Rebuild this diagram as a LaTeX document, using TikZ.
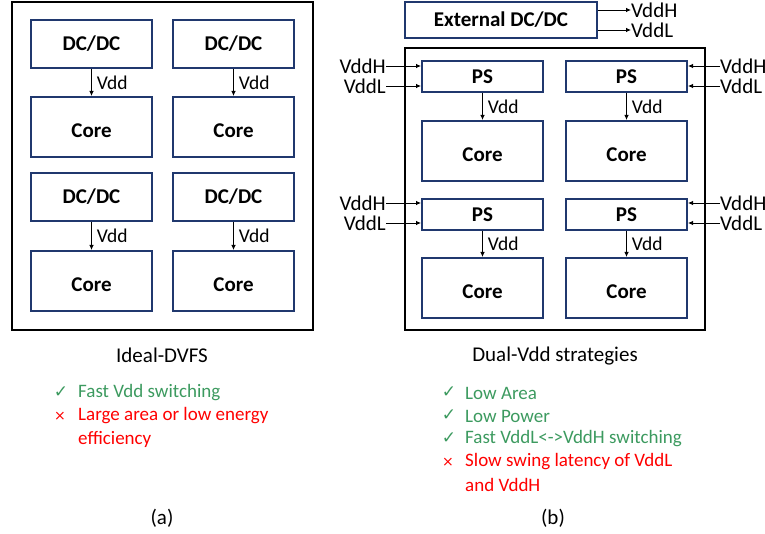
\documentclass[tikz,border=0pt]{standalone}
\usepackage{fontspec}
\setmainfont{Carlito}
\newfontfamily\symfont{DejaVu Sans}
\usetikzlibrary{positioning,arrows.meta}

\definecolor{boxblue}{RGB}{32,56,110}
\definecolor{okgreen}{RGB}{60,154,95}
\definecolor{badred}{RGB}{255,0,0}

\newcommand{\okmark}{{\symfont\fontsize{17}{17}\selectfont\color{okgreen}✓}}
\newcommand{\badmark}{{\symfont\fontsize{14}{14}\selectfont\color{badred}×}}
\newcommand{\coretext}{\raisebox{-3.5pt}[\height][\depth]{Core}}

\begin{document}
\begin{tikzpicture}[
      x=1pt, y=-1pt,
      blk/.style={
        draw=boxblue, line width=2pt, fill=white,
        font=\fontsize{21}{24}\selectfont\bfseries,
        minimum width=121pt, inner sep=0pt
      },
      conv/.style={blk, minimum height=48pt},
      core/.style={blk, minimum height=60pt},
      ps/.style={blk, minimum height=31pt},
      frame/.style={draw=black, line width=2pt},
      lbl/.style={font=\fontsize{19.5}{22}\selectfont, inner sep=0pt},
      sup/.style={font=\fontsize{21}{24}\selectfont, inner sep=0pt},
      item/.style={font=\fontsize{19}{23}\selectfont, inner sep=0pt, anchor=west},
      title/.style={font=\fontsize{21}{24}\selectfont, inner sep=0pt},
      wire/.style={line width=0.8pt, -{Latex[length=5pt,width=4.5pt]}},
      >=Latex
      ]
      \useasboundingbox (0,0) rectangle (765,534);

      % (a) ideal DVFS
      \draw[frame] (12,2) rectangle (313,330);
      \node[conv] (dc1) at (91.5,44) {DC/DC};
      \node[conv] (dc2) at (233.5,44) {DC/DC};
      \node[conv] (dc3) at (91.5,197) {DC/DC};
      \node[conv] (dc4) at (233.5,197) {DC/DC};
      \node[core, below=27pt of dc1] (ca1) {\coretext};
      \node[core, below=27pt of dc2] (ca2) {\coretext};
      \node[core, below=28pt of dc3] (ca3) {\coretext};
      \node[core, below=28pt of dc4] (ca4) {\coretext};

      \draw[wire] (dc1) -- node[lbl, right=5pt] {Vdd} (ca1);
      \draw[wire] (dc2) -- node[lbl, right=5pt] {Vdd} (ca2);
      \draw[wire] (dc3) -- node[lbl, right=5pt] {Vdd} (ca3);
      \draw[wire] (dc4) -- node[lbl, right=5pt] {Vdd} (ca4);

      \node[title] (ta) at (162,355) {Ideal-DVFS};
      \node[item] (a1) at (78,393) {\color{okgreen}Fast Vdd switching};
      \node[item] (a2) at (78,416) {\color{badred}Large area or low energy};
      \node[item] (a3) at (78,439) {\color{badred}efficiency};
      \node[inner sep=0pt] at (61,392) {\okmark};
      \node[inner sep=0pt] at (60,416) {\badmark};
      \node[title] (capa) at (162,518) {(a)};

      % (b) dual-Vdd
      \node[blk, minimum width=192pt, minimum height=36pt] (ext) at (501,20) {External DC/DC};
      \node[sup, anchor=west] (eh) at (631,10) {VddH};
      \node[sup, anchor=west] (el) at (631,30) {VddL};
      \draw[wire] (ext.east |- eh) -- (eh.west);
      \draw[wire] (ext.east |- el) -- (el.west);

      \draw[frame] (405,48) rectangle (705,330);
      \node[ps] (ps1) at (482.5,76.5) {PS};
      \node[ps] (ps2) at (626.5,76.5) {PS};
      \node[ps] (ps3) at (482.5,214.5) {PS};
      \node[ps] (ps4) at (626.5,214.5) {PS};
      \node[core, below=27pt of ps1] (cb1) {\coretext};
      \node[core, below=27pt of ps2] (cb2) {\coretext};
      \node[core, below=26pt of ps3] (cb3) {\coretext};
      \node[core, below=26pt of ps4] (cb4) {\coretext};

      \draw[wire] (ps1) -- node[lbl, right=5pt] {Vdd} (cb1);
      \draw[wire] (ps2) -- node[lbl, right=5pt] {Vdd} (cb2);
      \draw[wire] (ps3) -- node[lbl, right=5pt] {Vdd} (cb3);
      \draw[wire] (ps4) -- node[lbl, right=5pt] {Vdd} (cb4);

      % supply inputs
      \node[sup, anchor=east] (h1) at (386,66) {VddH};
      \node[sup, anchor=east] (l1) at (386,86) {VddL};
      \node[sup, anchor=east] (h3) at (386,203) {VddH};
      \node[sup, anchor=east] (l3) at (386,223) {VddL};
      \node[sup, anchor=west] (h2) at (720,66) {VddH};
      \node[sup, anchor=west] (l2) at (720,86) {VddL};
      \node[sup, anchor=west] (h4) at (720,203) {VddH};
      \node[sup, anchor=west] (l4) at (720,223) {VddL};
      \draw[wire] (h1.east) -- (h1 -| ps1.west);
      \draw[wire] (l1.east) -- (l1 -| ps1.west);
      \draw[wire] (h3.east) -- (h3 -| ps3.west);
      \draw[wire] (l3.east) -- (l3 -| ps3.west);
      \draw[wire] (h2.west) -- (h2 -| ps2.east);
      \draw[wire] (l2.west) -- (l2 -| ps2.east);
      \draw[wire] (h4.west) -- (h4 -| ps4.east);
      \draw[wire] (l4.west) -- (l4 -| ps4.east);

      \node[title] (tb) at (555,356) {Dual-Vdd strategies};
      \node[item] (b1) at (465,393) {\color{okgreen}Low Area};
      \node[item] (b2) at (465,416) {\color{okgreen}Low Power};
      \node[item] (b3) at (465,439) {\color{okgreen}Fast VddL<->VddH switching};
      \node[item] (b4) at (465,462) {\color{badred}Slow swing latency of VddL};
      \node[item] (b5) at (465,485) {\color{badred}and VddH};
      \node[inner sep=0pt] at (449,392) {\okmark};
      \node[inner sep=0pt] at (449,415) {\okmark};
      \node[inner sep=0pt] at (449,438) {\okmark};
      \node[inner sep=0pt] at (448,462) {\badmark};
      \node[title] (capb) at (553,518) {(b)};

\end{tikzpicture}
\end{document}
